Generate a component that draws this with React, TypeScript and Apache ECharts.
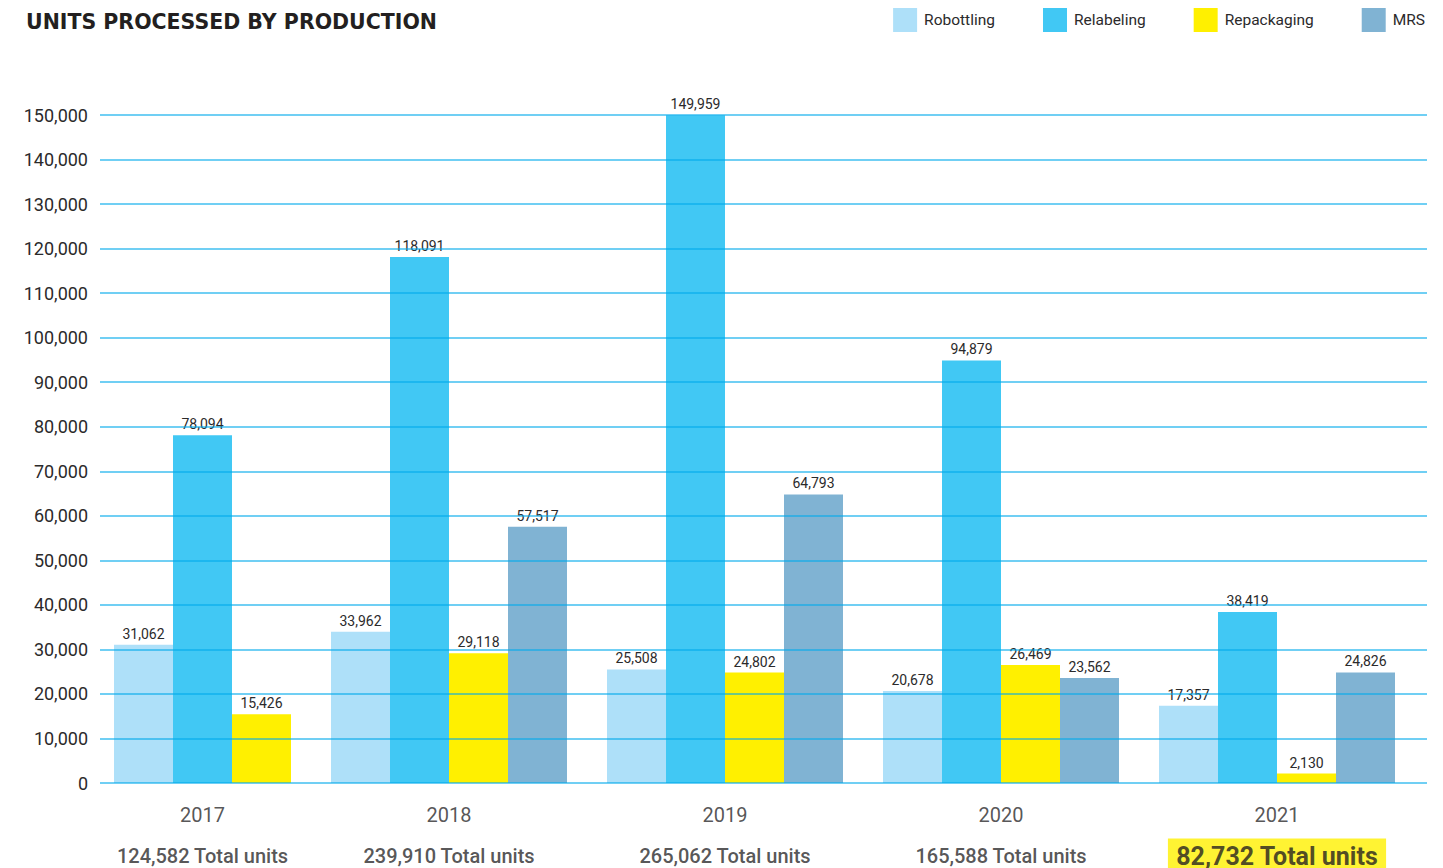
import React, { useEffect, useRef } from "react";
import * as echarts from "echarts";

const years = ["2017", "2018", "2019", "2020", "2021"];
const seriesNames = ["Robottling", "Relabeling", "Repackaging", "MRS"];
const robottling = [31062, 33962, 25508, 20678, 17357];
const relabeling = [78094, 118091, 149959, 94879, 38419];
const repackaging = [15426, 29118, 24802, 26469, 2130];
const mrs: (number | null)[] = [null, 57517, 64793, 23562, 24826];
const totals = [124582, 239910, 265062, 165588, 82732];
const yTicks = { min: 0, max: 150000, interval: 10000 };

const colors = ["#aee0f9", "#41c8f4", "#fff000", "#80b3d3"];
const BAR = 59;
const GAP = 40;
const TEXT = "#2b2a2b";
const FONT = "Roboto, 'Noto Sans', sans-serif";

const fmt = (v: number) => v.toLocaleString("en-US");

export default function App() {
  const ref = useRef<HTMLDivElement>(null);
  useEffect(() => {
    document.body.style.margin = "0";
    if (!ref.current) return;
    const chart = echarts.init(ref.current, undefined, { renderer: "svg" });
    const all = [robottling, relabeling, repackaging, mrs];

    // group layout along the hidden value x-axis
    const starts: number[] = [];
    const centers: number[] = [];
    let pos = 0;
    years.forEach((_, g) => {
      const n = all.filter((arr) => arr[g] != null).length;
      starts.push(pos);
      centers.push(pos + (n * BAR) / 2);
      pos += n * BAR + GAP;
    });

    const barSeries = seriesNames.map((name, s) => {
      const data: any[] = [];
      years.forEach((_, g) => {
        const v = all[s][g];
        if (v == null) return;
        let idx = 0;
        for (let k = 0; k < s; k++) if (all[k][g] != null) idx++;
        data.push([starts[g] + idx * BAR + BAR / 2, v]);
      });
      return {
        name,
        type: "bar",
        barWidth: BAR,
        barGap: "-100%",
        itemStyle: { color: colors[s] },
        label: {
          show: true,
          position: "top",
          distance: 4,
          color: TEXT,
          fontSize: 14,
          fontFamily: FONT,
          formatter: (p: any) => fmt(p.value[1]),
        },
        data,
        z: 2,
      };
    });

    const option: any = {
      animation: false,
      title: {
        text: "UNITS PROCESSED BY PRODUCTION",
        left: 21,
        top: 6,
        textStyle: {
          fontFamily: "'DejaVu Sans', sans-serif",
          fontSize: 20.5,
          fontWeight: "bold",
          color: "#231f20",
        },
      },
      legend: {
        data: seriesNames,
        right: 13,
        top: 3,
        itemWidth: 24,
        itemHeight: 24,
        itemGap: 48,
        icon: "rect",
        textStyle: { fontFamily: FONT, fontSize: 15.5, color: TEXT, padding: [0, 0, 0, 2] },
      },
      grid: { left: 100, right: 16, top: 115, bottom: 85 },
      xAxis: {
        type: "value",
        show: false,
        min: -14,
        max: 1313,
      },
      yAxis: {
        type: "value",
        min: yTicks.min,
        max: yTicks.max,
        interval: yTicks.interval,
        z: 5,
        axisLine: { show: false },
        axisTick: { show: false },
        axisLabel: {
          margin: 12,
          color: TEXT,
          fontSize: 18,
          fontFamily: FONT,
          formatter: (v: number) => fmt(v),
        },
        splitLine: { lineStyle: { color: "rgba(0,170,235,0.75)", width: 1.5 } },
      },
      series: [
        ...barSeries,
        {
          name: "years",
          type: "scatter",
          symbolSize: 0,
          clip: false,
          silent: true,
          z: 6,
          label: {
            show: true,
            position: "inside",
            offset: [0, 32],
            color: TEXT,
            fontSize: 20,
            fontFamily: FONT,
            formatter: (p: any) => p.name,
          },
          data: years.map((y, g) => ({ name: y, value: [centers[g], 0] })),
        },
        {
          name: "totals",
          type: "scatter",
          symbolSize: 0,
          clip: false,
          silent: true,
          z: 6,
          label: {
            show: true,
            position: "inside",
            offset: [0, 73],
            color: TEXT,
            fontSize: 20,
            fontWeight: 500,
            fontFamily: FONT,
            formatter: (p: any) => p.name,
          },
          data: totals.map((t, g) => {
            const item: any = { name: `${fmt(t)} Total units`, value: [centers[g], 0] };
            if (g === totals.length - 1) {
              item.label = {
                fontSize: 25,
                fontWeight: "bold",
                backgroundColor: "#fff000",
                padding: [5, 8, 5, 8],
                offset: [0, 73],
                color: "#231f20",
              };
            }
            return item;
          }),
        },
      ],
    };
    chart.setOption(option);
    return () => chart.dispose();
  }, []);
  return <div ref={ref} style={{ width: 1443, height: 868 }} />;
}
